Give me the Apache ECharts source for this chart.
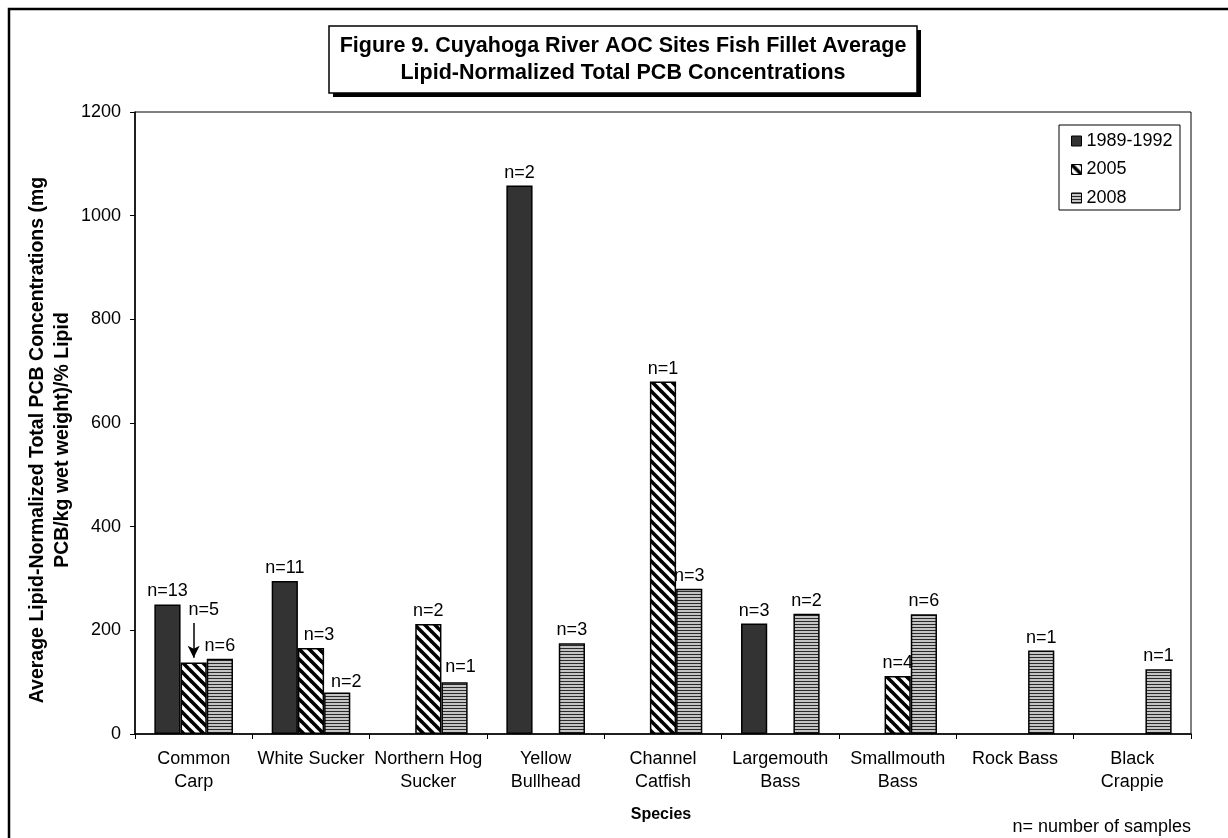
<!DOCTYPE html>
<html>
<head>
<meta charset="utf-8">
<script src="https://cdn.jsdelivr.net/npm/echarts@6/dist/echarts.min.js"></script>
<style>
html,body{margin:0;padding:0;background:#fff;}
#chart{width:1228px;height:838px;}
</style>
</head>
<body>
<div id="chart"></div>
<script>
// ---- data ----
const categories = ['Common\nCarp', 'White Sucker', 'Northern Hog\nSucker', 'Yellow\nBullhead', 'Channel\nCatfish', 'Largemouth\nBass', 'Smallmouth\nBass', 'Rock Bass', 'Black\nCrappie'];
const seriesNames = ['1989-1992', '2005', '2008'];
const values1989 = [250, 295, null, 1058, null, 213, null, null, null];
const values2005 = [138, 166, 212, null, 680, null, 112, null, null];
const values2008 = [145, 80, 100, 175, 280, 232, 231, 161, 125];
const n1989 = [13, 11, null, 2, null, 3, null, null, null];
const n2005 = [5, 3, 2, null, 1, null, 4, null, null];
const n2008 = [6, 2, 1, 3, 3, 2, 6, 1, 1];
const yTicks = { min: 0, max: 1200, interval: 200 };
const arrowFrom = 214, arrowTo = 147; // arrow on Common Carp 2005 (value units)

// ---- layout/style tweaks (not data) ----
const labelNudge = {
  '1-0': [10, -39],
  '1-1': [8, 0],
  '2-1': [9, 2],
  '2-2': [6, -2]
};

const FONT = 'Arial, "Liberation Sans", sans-serif';
const FS = 18;

function diagPattern() {
  const s = 10;
  const c = document.createElement('canvas');
  c.width = s; c.height = s;
  const ctx = c.getContext('2d');
  ctx.fillStyle = '#fff'; ctx.fillRect(0, 0, s, s);
  ctx.strokeStyle = '#000'; ctx.lineWidth = 3.6;
  for (let k = -1; k <= 1; k++) {
    ctx.beginPath();
    ctx.moveTo(k * s - 3, -3);
    ctx.lineTo(k * s + s + 3, s + 3);
    ctx.stroke();
  }
  return { image: c, repeat: 'repeat' };
}
function hPattern() {
  const c = document.createElement('canvas');
  c.width = 4; c.height = 3;
  const ctx = c.getContext('2d');
  ctx.fillStyle = '#c4c4c4'; ctx.fillRect(0, 0, 4, 3);
  ctx.fillStyle = '#2a2a2a'; ctx.fillRect(0, 0, 4, 1);
  return { image: c, repeat: 'repeat' };
}

const fills = ['#333333', diagPattern(), hPattern()];
const allValues = [values1989, values2005, values2008];
const allN = [n1989, n2005, n2008];

function buildData(si) {
  return allValues[si].map((v, i) => {
    if (v === null) return null;
    const item = { value: v };
    const key = si + '-' + i;
    if (labelNudge[key]) item.label = { offset: labelNudge[key] };
    return item;
  });
}

const series = seriesNames.map((name, si) => {
  const s = {
    name: name,
    type: 'bar',
    barGap: '0%',
    barCategoryGap: '33%',
    data: buildData(si),
    itemStyle: { color: fills[si], borderColor: '#000', borderWidth: 1.5 },
    label: {
      show: true,
      position: 'top',
      distance: 4,
      fontFamily: FONT,
      fontSize: FS,
      color: '#000',
      formatter: p => (allN[si][p.dataIndex] != null ? 'n=' + allN[si][p.dataIndex] : '')
    },
    emphasis: { disabled: true },
    animation: false
  };
  if (si === 1) {
    s.markLine = {
      silent: true,
      animation: false,
      symbol: ['none', 'arrow'],
      symbolSize: [9, 12],
      label: { show: false },
      lineStyle: { color: '#000', width: 1.5, type: 'solid' },
      data: [[{ coord: [0, arrowFrom] }, { coord: [0, arrowTo] }]]
    };
  }
  return s;
});

const chart = echarts.init(document.getElementById('chart'), null, { renderer: 'canvas' });
chart.setOption({
  backgroundColor: '#fff',
  animation: false,
  textStyle: { fontFamily: FONT },
  grid: {
    left: 135, top: 112, right: 37, bottom: 104,
    show: true, borderColor: '#000', borderWidth: 1, backgroundColor: 'transparent'
  },
  legend: {
    orient: 'vertical',
    left: 1071, top: 132,
    padding: 0,
    itemGap: 10.5,
    itemWidth: 10, itemHeight: 10,
    icon: 'rect',
    selectedMode: false,
    textStyle: { fontFamily: FONT, fontSize: FS, color: '#000' },
    itemStyle: { borderColor: '#000', borderWidth: 1 },
    z: 10,
    data: seriesNames
  },
  xAxis: {
    type: 'category',
    data: categories,
    axisLine: { lineStyle: { color: '#000', width: 1.5 } },
    axisTick: { show: true, interval: 0, length: 5, lineStyle: { color: '#000' } },
    axisLabel: { interval: 0, margin: 14, fontFamily: FONT, fontSize: FS, color: '#000', lineHeight: 23 },
    splitLine: { show: false }
  },
  yAxis: {
    type: 'value',
    min: yTicks.min, max: yTicks.max, interval: yTicks.interval,
    axisLine: { show: true, lineStyle: { color: '#000', width: 1.5 } },
    axisTick: { show: true, length: 5, lineStyle: { color: '#000' } },
    axisLabel: { margin: 14, fontFamily: FONT, fontSize: FS, color: '#000', formatter: v => String(v) },
    splitLine: { show: false }
  },
  graphic: [
    { type: 'rect', z: -10, silent: true, shape: { x: 9, y: 9, width: 1240, height: 860 },
      style: { fill: 'none', stroke: '#000', lineWidth: 2.5 } },
    { type: 'rect', z: 20, silent: true, shape: { x: 333, y: 30, width: 588, height: 67 },
      style: { fill: '#000' } },
    { type: 'rect', z: 21, silent: true, shape: { x: 329, y: 26, width: 588, height: 67 },
      style: { fill: '#fff', stroke: '#000', lineWidth: 1.5 } },
    { type: 'text', z: 22, silent: true, x: 623, y: 59.5,
      style: { text: 'Figure 9. Cuyahoga River AOC Sites Fish Fillet Average\nLipid-Normalized Total PCB Concentrations',
        font: 'bold 21.5px ' + FONT, fill: '#000', align: 'center', verticalAlign: 'middle', lineHeight: 27 } },
    { type: 'rect', z: 5, silent: true, shape: { x: 1059, y: 125, width: 121, height: 85 },
      style: { fill: '#fff', stroke: '#000', lineWidth: 1 } },
    { type: 'text', z: 22, silent: true, x: 50, y: 440, rotation: Math.PI / 2,
      style: { text: 'Average Lipid-Normalized Total PCB Concentrations (mg\nPCB/kg wet weight)/% Lipid',
        font: 'bold 19.5px ' + FONT, fill: '#000', align: 'center', verticalAlign: 'middle', lineHeight: 25 } },
    { type: 'text', z: 22, silent: true, x: 661, y: 815,
      style: { text: 'Species', font: 'bold 16px ' + FONT, fill: '#000', align: 'center', verticalAlign: 'middle' } },
    { type: 'text', z: 22, silent: true, x: 1191, y: 827,
      style: { text: 'n= number of samples', font: FS + 'px ' + FONT, fill: '#000', align: 'right', verticalAlign: 'middle' } }
  ],
  series: series
});
</script>
</body>
</html>
